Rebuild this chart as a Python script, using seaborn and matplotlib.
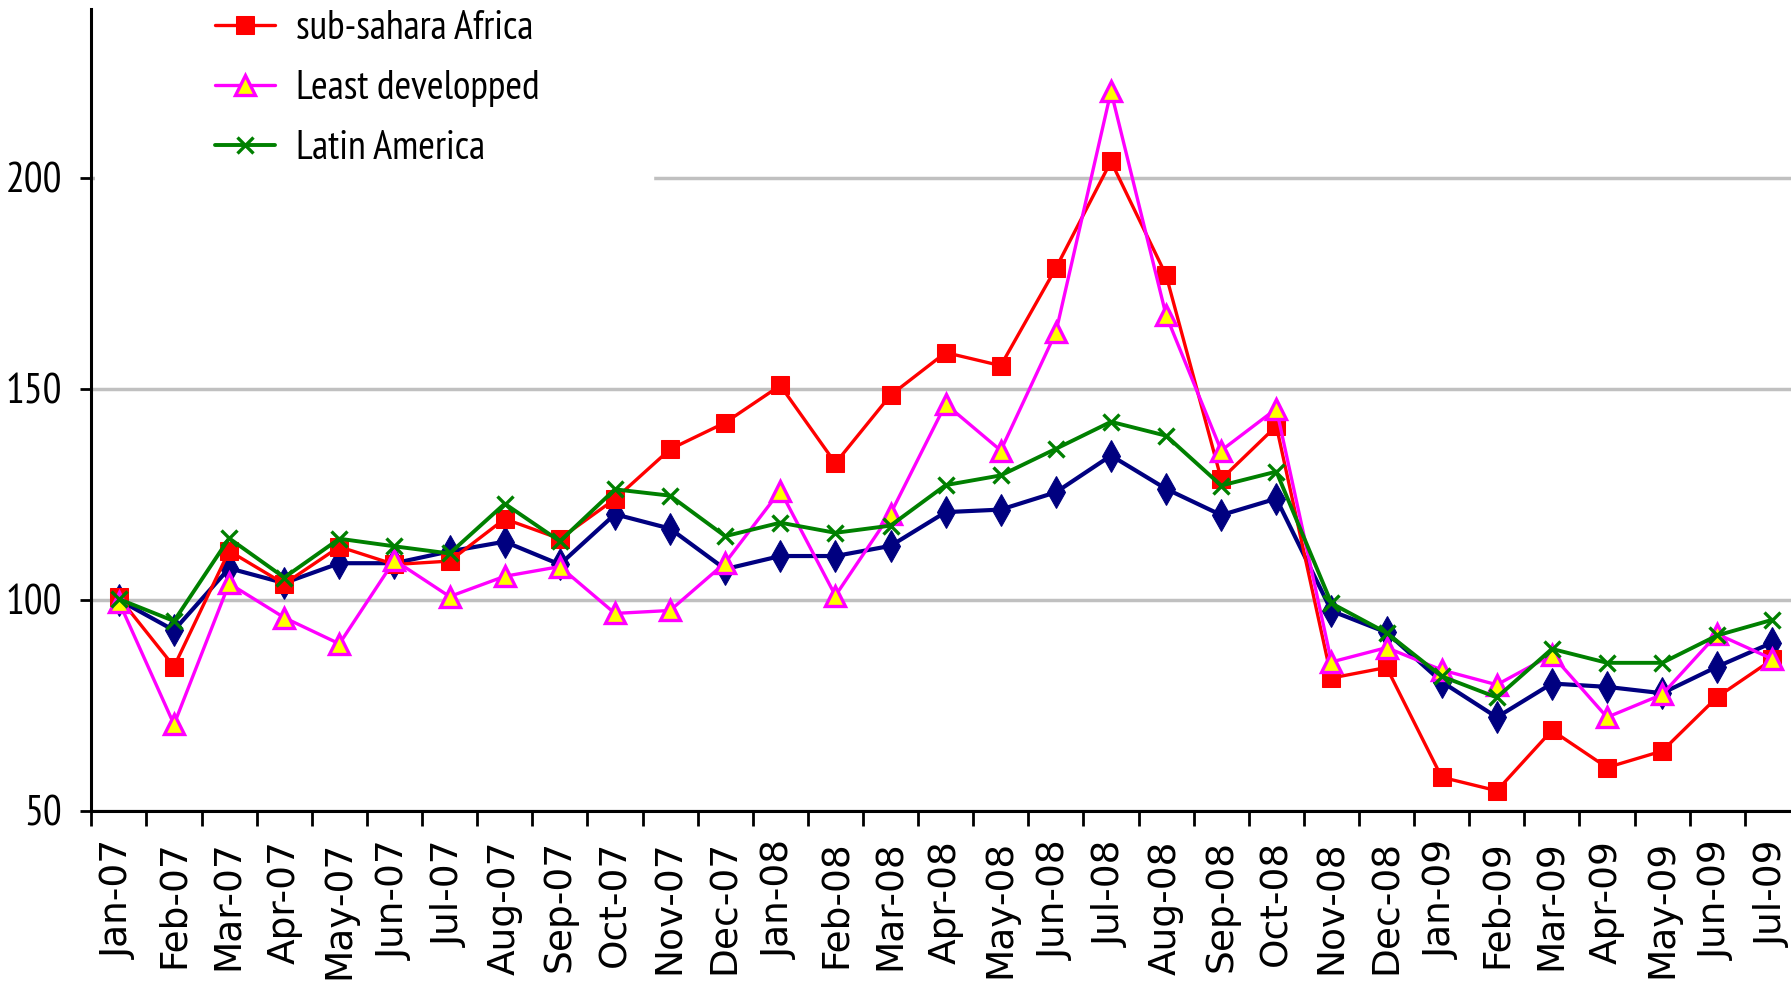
import matplotlib
matplotlib.use("Agg")
import matplotlib.pyplot as plt
from matplotlib.patches import Rectangle
import seaborn as sns
import numpy as np
import pandas as pd

months = ["Jan-07", "Feb-07", "Mar-07", "Apr-07", "May-07", "Jun-07", "Jul-07", "Aug-07",
          "Sep-07", "Oct-07", "Nov-07", "Dec-07", "Jan-08", "Feb-08", "Mar-08", "Apr-08",
          "May-08", "Jun-08", "Jul-08", "Aug-08", "Sep-08", "Oct-08", "Nov-08", "Dec-08",
          "Jan-09", "Feb-09", "Mar-09", "Apr-09", "May-09", "Jun-09", "Jul-09"]

all_developing = [100, 92.8, 107.5, 104, 108.7, 108.7, 111.5, 113.8, 108.4, 120.3, 116.9, 107.3,
                  110.4, 110.4, 112.8, 120.8, 121.4, 125.5, 134.2, 126.3, 120.1, 124.0, 97.4, 92.3,
                  80.6, 72.2, 80.2, 79.4, 77.9, 84.2, 89.9]
sub_sahara = [100.6, 84.2, 111.6, 103.8, 112.6, 108.4, 109.2, 119.2, 114.5, 123.9, 135.7, 142.0,
              150.8, 132.4, 148.5, 158.6, 155.5, 178.6, 203.9, 176.9, 128.6, 141.2, 81.5, 84.0,
              58.0, 54.8, 69.1, 60.3, 64.2, 77.0, 85.9]
least_developed = [99.6, 70.5, 103.9, 95.8, 89.6, 109.4, 100.8, 105.6, 107.9, 96.8, 97.5, 108.8,
                   125.9, 101.0, 120.4, 146.4, 135.4, 163.4, 220.5, 167.4, 135.4, 145.3, 85.3, 88.7,
                   83.4, 79.9, 87.0, 72.2, 77.6, 91.9, 86.0]
latin_america = [100.2, 95.0, 114.6, 105.3, 114.5, 112.7, 111.0, 122.8, 113.9, 126.2, 124.7, 115.1,
                 118.3, 115.9, 117.6, 127.2, 129.5, 135.8, 142.2, 138.9, 127.1, 130.4, 99.2, 92.2,
                 81.9, 76.9, 88.4, 85.1, 85.1, 91.6, 95.3]

sns.set_theme(style="white")
plt.rcParams["font.family"] = ["DejaVu Sans"]
plt.rcParams["text.color"] = "black"
plt.rcParams["xtick.color"] = "black"
plt.rcParams["ytick.color"] = "black"
narrow = ["PT Sans Narrow", "DejaVu Sans"]

fig = plt.figure(figsize=(17.91, 9.86), dpi=100)
ax = fig.add_axes([0.051, 0.1775, 0.954, 0.8134])

x = np.arange(len(months))
df = pd.DataFrame({"idx": x, "all": all_developing, "ssa": sub_sahara,
                   "ldc": least_developed, "lat": latin_america})

sns.lineplot(data=df, x="idx", y="all", ax=ax, color="#000080", lw=3.0, marker="d",
             markersize=16, markerfacecolor="#000080", markeredgecolor="#000080",
             label="_nolegend_", sort=False, zorder=3)
sns.lineplot(data=df, x="idx", y="ssa", ax=ax, color="#FF0000", lw=2.4, marker="s",
             markersize=12.5, markerfacecolor="#FF0000", markeredgecolor="#FF0000",
             label="sub-sahara Africa", sort=False, zorder=4)
sns.lineplot(data=df, x="idx", y="ldc", ax=ax, color="#FF00FF", lw=2.4, marker="^",
             markersize=15, markerfacecolor="#FFFF00", markeredgecolor="#FF00FF",
             markeredgewidth=2.4, label="Least developped", sort=False, zorder=5)
sns.lineplot(data=df, x="idx", y="lat", ax=ax, color="#008000", lw=2.8, marker="x",
             markersize=12, markeredgecolor="#008000", markeredgewidth=2.4,
             label="Latin America", sort=False, zorder=6)

ax.set_xlim(-0.5, len(months) - 0.5)
ax.set_ylim(50, 240)
ax.set_xlabel("")
ax.set_ylabel("")

ax.set_yticks([50, 100, 150, 200])
ax.set_yticklabels(["50", "100", "150", "200"], family=narrow, fontsize=30, color="black")
ax.set_xticks(x)
ax.set_xticklabels(months, rotation=90, fontsize=27, va="top", ha="center", color="black")
ax.set_xticks(np.arange(len(months) + 1) - 0.5, minor=True)
ax.tick_params(axis="x", which="major", length=0, pad=21)
ax.tick_params(axis="x", which="minor", length=11, width=2, color="black", direction="out", bottom=True)
ax.tick_params(axis="y", which="major", length=8, width=2, color="black", direction="out", left=True, pad=13)

ax.yaxis.grid(True, color="#c0c0c0", lw=2.5)
ax.xaxis.grid(False)
ax.set_axisbelow(True)

for s in ["top", "right"]:
    ax.spines[s].set_visible(False)
for s in ["left", "bottom"]:
    ax.spines[s].set_color("black")
    ax.spines[s].set_linewidth(2.2)

# white legend area reaching the value axis (hides the gridline behind it)
ax.add_patch(Rectangle((0.002, 0.76), 0.06, 0.24, transform=ax.transAxes,
                       facecolor="white", edgecolor="none", zorder=1))

leg = ax.legend(loc="upper left", bbox_to_anchor=(0.0535, 0.5, 0.2752, 0.539), mode="expand",
                borderaxespad=0, frameon=True, facecolor="white", edgecolor="white",
                framealpha=1, fancybox=False, prop={"family": narrow, "size": 29},
                handlelength=1.5, handletextpad=0.5, labelspacing=0.57, borderpad=0.8,
                numpoints=1)
for t in leg.get_texts():
    t.set_color("black")
leg.set_zorder(10)

fig.savefig("out.png", dpi=100)
